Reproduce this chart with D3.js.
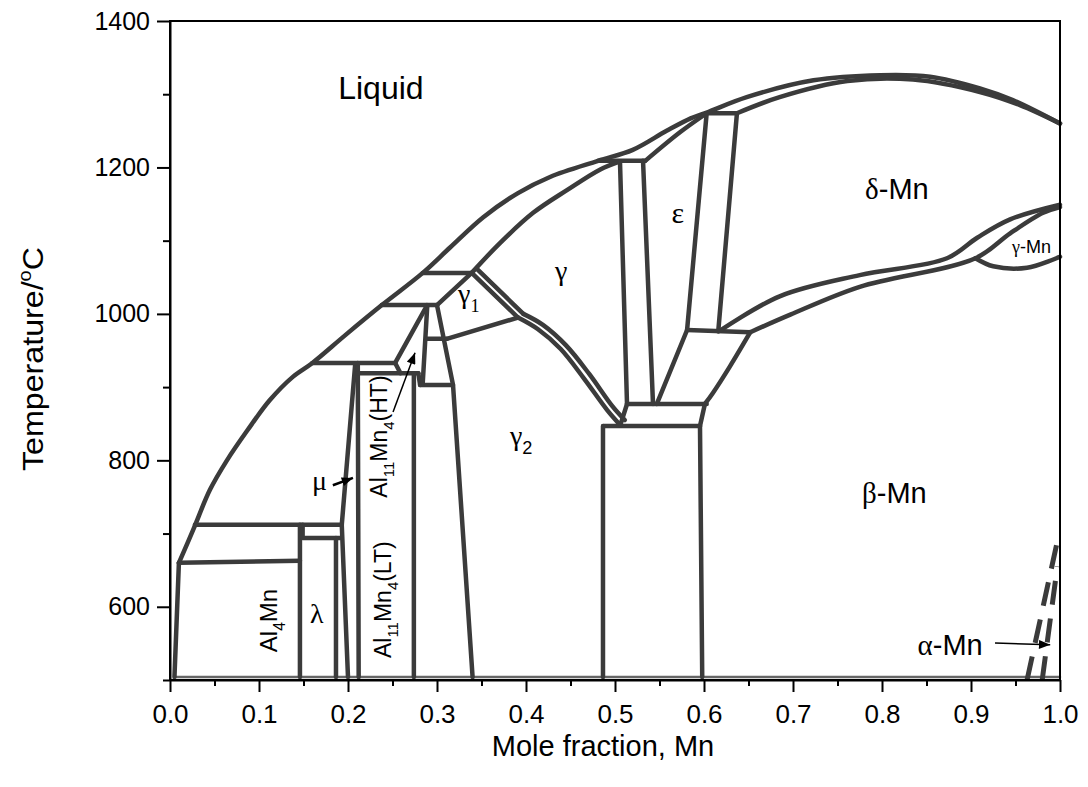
<!DOCTYPE html>
<html>

<head>
    <meta charset="UTF-8">
    <style>
        body { margin: 0; background: #fff; }
        svg { font-family: "Liberation Sans", Arial, sans-serif; }
        .phase { fill: none; stroke: #3b3b3b; stroke-width: 4.5; stroke-linejoin: round; stroke-linecap: round; }
        .axis path, .axis line { stroke: #000; stroke-width: 2; }
    </style>
</head>

<body>
    <svg></svg>
    <script src="https://d3js.org/d3.v7.min.js"></script>
    <script>
        let width = 1088,
            height = 787;

        // axis ticks
        let xTicks = [0, 0.1, 0.2, 0.3, 0.4, 0.5, 0.6, 0.7, 0.8, 0.9, 1.0];
        let xTickLabels = ["0.0", "0.1", "0.2", "0.3", "0.4", "0.5", "0.6", "0.7", "0.8", "0.9", "1.0"];
        let xMinor = [0.05, 0.15, 0.25, 0.35, 0.45, 0.55, 0.65, 0.75, 0.85, 0.95];
        let yTicks = [600, 800, 1000, 1200, 1400];
        let yTickLabels = ["600", "800", "1000", "1200", "1400"];
        let yMinor = [500, 700, 900, 1100, 1300];

        // phase boundaries, [mole fraction Mn, T in C]
        let liquidus = [[0.010, 660], [0.026, 705], [0.045, 760], [0.064, 800], [0.087, 841], [0.112, 882], [0.138, 914],
            [0.160, 933], [0.197, 971], [0.238, 1012], [0.284, 1056], [0.315, 1091], [0.352, 1132], [0.391, 1165],
            [0.427, 1187], [0.481, 1209], [0.520, 1224], [0.558, 1250], [0.585, 1267], [0.603, 1275], [0.648, 1296],
            [0.723, 1319], [0.798, 1326], [0.854, 1324], [0.910, 1308], [0.947, 1292], [1.0, 1260]];
        let deltaSolidus = [[0.637, 1274], [0.685, 1296], [0.761, 1318], [0.835, 1320], [0.910, 1303], [0.955, 1285], [1.0, 1260]];
        let epsSolidus = [[0.534, 1209], [0.573, 1248], [0.603, 1274]];
        let gammaSolidus = [[0.339, 1056], [0.371, 1097], [0.408, 1138], [0.446, 1169], [0.483, 1197], [0.505, 1208]];
        let gammaLowA = [[0.391, 995], [0.4135, 979], [0.439, 952], [0.465, 912], [0.491, 869], [0.506, 848]];
        let gammaLowB = [[0.397, 1000], [0.419, 985], [0.445, 957], [0.471, 918], [0.497, 874], [0.511, 855]];
        let betaEdge = [[0.652, 975], [0.629, 928], [0.610, 892], [0.601, 877]];
        let deltaBetaA = [[0.618, 977], [0.685, 1024], [0.775, 1053], [0.873, 1076], [0.907, 1104], [0.944, 1129], [1.0, 1149]];
        let deltaBetaB = [[0.652, 975], [0.697, 999], [0.775, 1037], [0.905, 1076], [0.944, 1110], [0.981, 1138], [1.0, 1146]];
        let gammaMnLow = [[0.905, 1076], [0.925, 1065], [0.963, 1063], [1.0, 1078]];

        // straight boundaries and invariant lines
        let segments = [
            [[0.005, 504], [0.010, 660]],
            [[0.010, 660], [0.146, 663]],
            [[0.028, 712], [0.193, 712]],
            [[0.146, 712], [0.146, 504]],
            [[0.149, 712], [0.149, 694], [0.191, 694]],
            [[0.1865, 694], [0.1865, 504]],
            [[0.208, 930], [0.193, 712], [0.200, 504]],
            [[0.211, 933], [0.212, 504]],
            [[0.160, 933], [0.253, 933]],
            [[0.253, 933], [0.289, 1012]],
            [[0.253, 933], [0.259, 919]],
            [[0.211, 919], [0.279, 919]],
            [[0.274, 919], [0.274, 504]],
            [[0.279, 919], [0.281, 903]],
            [[0.281, 903], [0.318, 903]],
            [[0.289, 1010], [0.284, 906]],
            [[0.289, 966], [0.311, 966]],
            [[0.300, 1012], [0.318, 903], [0.340, 504]],
            [[0.238, 1012], [0.300, 1012]],
            [[0.300, 1012], [0.339, 1056]],
            [[0.284, 1056], [0.339, 1056]],
            [[0.311, 966], [0.391, 995]],
            [[0.339, 1056], [0.391, 995]],
            [[0.346, 1060], [0.397, 1000]],
            [[0.487, 847], [0.5955, 847]],
            [[0.4865, 847], [0.4865, 504]],
            [[0.5955, 847], [0.598, 504]],
            [[0.506, 848], [0.5135, 877]],
            [[0.5135, 877], [0.603, 877]],
            [[0.601, 877], [0.5955, 847]],
            [[0.481, 1209], [0.534, 1209]],
            [[0.5056, 1208], [0.5135, 877]],
            [[0.5315, 1209], [0.5427, 877]],
            [[0.547, 877], [0.581, 978]],
            [[0.581, 978], [0.652, 975]],
            [[0.603, 1274], [0.581, 978]],
            [[0.637, 1274], [0.616, 976]],
            [[0.603, 1274], [0.637, 1274]]
        ];
        let alphaMn = [
            [[0.963, 500], [0.998, 695]],
            [[0.980, 500], [0.997, 655]]
        ];
        let baseLine = [[0.005, 504], [1.0, 504]];

        let svg = d3.select("svg")
            .attr("width", width)
            .attr("height", height);

        let x = d3.scaleLinear().domain([0, 1]).range([170, 1060]);
        let y = d3.scaleLinear().domain([500, 1400]).range([680, 21]);

        let straight = d3.line().x(d => x(d[0])).y(d => y(d[1]));
        let smooth = d3.line().x(d => x(d[0])).y(d => y(d[1])).curve(d3.curveCatmullRom.alpha(0.5));

        svg.append("defs").append("marker")
            .attr("id", "head")
            .attr("viewBox", "0 0 10 8")
            .attr("refX", 10).attr("refY", 4)
            .attr("markerWidth", 12).attr("markerHeight", 9)
            .attr("markerUnits", "userSpaceOnUse")
            .attr("orient", "auto")
            .append("path").attr("d", "M0,0L10,4L0,8Z").attr("fill", "#000");

        let g = svg.append("g");

        g.append("path").attr("class", "phase")
            .attr("d", straight(baseLine))
            .style("stroke", "#666").style("stroke-width", 2.5);

        g.selectAll(".seg")
            .data(segments)
            .enter()
            .append("path")
            .attr("class", "phase seg")
            .attr("d", d => straight(d));

        g.selectAll(".crv")
            .data([liquidus, deltaSolidus, epsSolidus, gammaSolidus, gammaLowA, gammaLowB, betaEdge, deltaBetaA, deltaBetaB, gammaMnLow])
            .enter()
            .append("path")
            .attr("class", "phase crv")
            .attr("d", d => smooth(d));

        g.selectAll(".dash")
            .data(alphaMn)
            .enter()
            .append("path")
            .attr("class", "phase dash")
            .attr("d", d => straight(d))
            .style("stroke-width", 5)
            .style("stroke-linecap", "butt")
            .style("stroke-dasharray", "24,14");

        // arrows
        let arrows = [
            [[0.2506, 866], [0.2753, 947], 1.5],
            [[0.183, 766], [0.2056, 776], 2.5],
            [[0.927, 550.5], [0.989, 548], 1.5]
        ];
        g.selectAll(".arrow")
            .data(arrows)
            .enter()
            .append("line")
            .attr("x1", d => x(d[0][0])).attr("y1", d => y(d[0][1]))
            .attr("x2", d => x(d[1][0])).attr("y2", d => y(d[1][1]))
            .attr("stroke", "#000")
            .attr("stroke-width", d => d[2])
            .attr("marker-end", "url(#head)");

        function addLabel(X, T, pieces, size, angle) {
            let t = svg.append("text")
                .attr("transform", "translate(" + x(X) + "," + y(T) + ")" + (angle ? " rotate(" + angle + ")" : ""))
                .attr("font-size", size)
                .attr("fill", "#000");
            let shift = 0;
            pieces.forEach(p => {
                let target = p.sub ? 0.32 * size : 0;
                let s = t.append("tspan")
                    .text(p.t)
                    .attr("dy", target - shift)
                    .attr("font-size", p.sub ? size * 0.65 : size);
                if (p.serif) s.attr("font-family", "Liberation Serif, serif");
                shift = target;
            });
            return t;
        }

        addLabel(0.189, 1293, [{ t: "Liquid" }], 32);
        addLabel(0.781, 1157, [{ t: "δ", serif: true }, { t: "-Mn" }], 29);
        addLabel(0.7775, 742, [{ t: "β", serif: true }, { t: "-Mn" }], 29);
        addLabel(0.946, 1083, [{ t: "γ", serif: true }, { t: "-Mn" }], 18);
        addLabel(0.840, 534, [{ t: "α", serif: true }, { t: "-Mn" }], 29);
        addLabel(0.5635, 1124, [{ t: "ε", serif: true }], 30);
        addLabel(0.4326, 1046, [{ t: "γ", serif: true }], 28);
        addLabel(0.3236, 1015, [{ t: "γ", serif: true }, { t: "1", sub: true, serif: true }], 28);
        addLabel(0.382, 821, [{ t: "γ", serif: true }, { t: "2", sub: true }], 28);
        addLabel(0.1596, 759, [{ t: "μ", serif: true }], 28);
        addLabel(0.1573, 578, [{ t: "λ", serif: true }], 28);
        addLabel(0.1202, 538, [{ t: "Al" }, { t: "4", sub: true }, { t: "Mn" }], 24, -90);
        addLabel(0.2483, 530, [{ t: "Al" }, { t: "11", sub: true }, { t: "Mn" }, { t: "4", sub: true }, { t: "(LT)" }], 23, -90);
        addLabel(0.2438, 749, [{ t: "Al" }, { t: "11", sub: true }, { t: "Mn" }, { t: "4", sub: true }, { t: "(HT)" }], 23, -90);

        // axes
        let xAxis = svg.append("g")
            .attr("class", "axis")
            .attr("transform", "translate(0,680)")
            .call(d3.axisBottom(x).tickValues(xTicks).tickSize(12).tickPadding(13).tickSizeOuter(0)
                .tickFormat((d, i) => xTickLabels[i]));
        xAxis.selectAll("text").attr("font-size", 26).attr("fill", "#000")
            .attr("font-family", "Liberation Sans, Arial, sans-serif");

        svg.append("g")
            .attr("class", "axis")
            .attr("transform", "translate(0,680)")
            .call(d3.axisBottom(x).tickValues(xMinor).tickSize(6).tickFormat(""))
            .select(".domain").remove();

        let yAxis = svg.append("g")
            .attr("class", "axis")
            .attr("transform", "translate(170,0)")
            .call(d3.axisLeft(y).tickValues(yTicks).tickSize(13).tickPadding(7).tickSizeOuter(0)
                .tickFormat((d, i) => yTickLabels[i]));
        yAxis.selectAll("text").attr("font-size", 25).attr("fill", "#000")
            .attr("font-family", "Liberation Sans, Arial, sans-serif");

        svg.append("g")
            .attr("class", "axis")
            .attr("transform", "translate(170,0)")
            .call(d3.axisLeft(y).tickValues(yMinor).tickSize(7).tickFormat(""))
            .select(".domain").remove();

        // frame
        svg.append("rect")
            .attr("x", 170).attr("y", 21)
            .attr("width", 890).attr("height", 659)
            .attr("fill", "none")
            .attr("stroke", "#000")
            .attr("stroke-width", 2);

        let yTitle = svg.append("text")
            .attr("transform", "translate(43,359) rotate(-90)")
            .attr("text-anchor", "middle")
            .attr("font-size", 29)
            .attr("textLength", 224)
            .attr("lengthAdjust", "spacingAndGlyphs");
        yTitle.append("tspan").text("Temperature/");
        yTitle.append("tspan").text("o").attr("font-size", 18).attr("dy", -12);
        yTitle.append("tspan").text("C").attr("dy", 12);

        svg.append("text")
            .attr("x", 603).attr("y", 756)
            .attr("text-anchor", "middle")
            .attr("font-size", 29)
            .text("Mole fraction, Mn");
    </script>
</body>

</html>
